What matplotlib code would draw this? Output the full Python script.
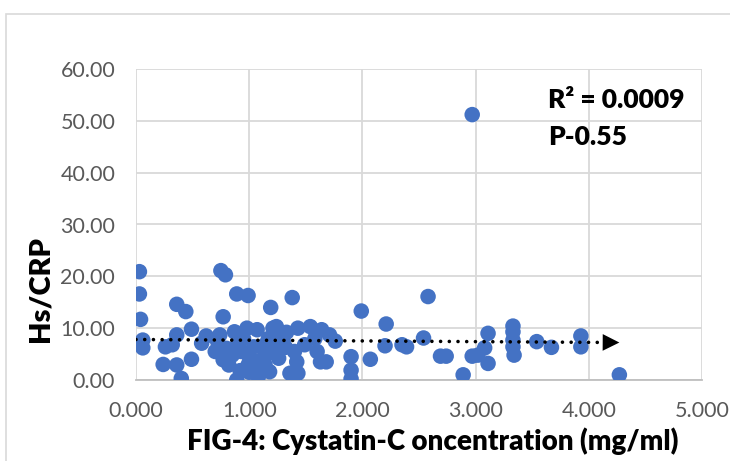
import numpy as np
import matplotlib
matplotlib.use("Agg")
import matplotlib.pyplot as plt
from matplotlib.patches import Rectangle

OUTPUT_FILE = "out.png"

# Cystatin-C concentration (mg/ml)
cystatin_c = [
    0.03, 0.03, 0.04, 0.06, 0.06,
    0.36, 0.44, 0.49, 0.36, 0.26, 0.32, 0.24, 0.36, 0.40, 0.49, 0.58, 0.62,
    0.75, 0.79, 0.77, 0.89, 0.99,
    0.74, 0.87, 0.98, 1.07, 1.21, 1.24, 1.43, 0.80, 0.77, 0.82, 0.93, 0.99,
    0.89, 1.08, 1.14, 1.21, 1.26, 1.36, 1.43, 1.40, 1.04, 0.70, 1.14,
    0.72, 0.90, 0.95, 1.00, 0.85, 1.10, 0.92, 1.00, 1.17, 1.30, 1.32,
    1.38, 1.19, 1.99, 2.21, 2.20, 1.90, 2.07, 1.90, 1.90, 1.68, 1.63, 1.18,
    1.24, 1.33, 1.54, 1.64, 1.71, 1.76, 1.58, 1.49, 1.23, 1.14, 1.42, 1.60, 1.08,
    2.58, 2.35, 2.39, 2.54, 2.69, 2.74, 2.89, 2.97, 3.02, 3.08, 3.11, 3.11,
    3.33, 3.33, 3.33, 3.33, 3.34,
    3.54, 3.67, 3.93, 3.93, 4.27,
    2.97,
]

# Hs/CRP
hs_crp = [
    20.9, 16.6, 11.7, 7.7, 6.2,
    14.6, 13.2, 9.8, 8.7, 6.4, 6.8, 3.0, 2.9, 0.3, 4.0, 7.1, 8.5,
    21.1, 20.3, 12.2, 16.6, 16.3,
    8.7, 9.3, 10.0, 9.7, 10.0, 8.7, 10.0, 6.1, 3.9, 2.9, 5.5, 2.9,
    0.0, 0.6, 2.9, 5.5, 4.2, 1.3, 1.3, 5.5, 6.4, 5.5, 6.8,
    7.5, 7.0, 8.0, 4.5, 4.8, 3.8, 1.8, 1.5, 8.0, 7.5, 6.3,
    15.9, 14.0, 13.3, 10.8, 6.6, 4.5, 4.0, 1.9, 0.2, 3.5, 3.5, 1.6,
    10.3, 9.2, 10.3, 9.7, 8.7, 7.5, 8.0, 6.8, 6.1, 4.8, 3.5, 5.5, 2.9,
    16.1, 6.8, 6.4, 8.1, 4.6, 4.6, 1.0, 4.6, 4.8, 6.2, 9.0, 3.2,
    10.4, 9.3, 7.7, 6.4, 4.8,
    7.4, 6.3, 8.5, 6.4, 1.0,
    51.2,
]

x_ticks = [0, 1, 2, 3, 4, 5]
y_ticks = [0, 10, 20, 30, 40, 50, 60]
stats_text = ["R\u00b2 = 0.0009", "P-0.55"]

plt.rcParams['font.family'] = ['Lato', 'DejaVu Sans']

fig = plt.figure(figsize=(7.30, 4.61), dpi=100)
ax = fig.add_axes([136 / 730, 1 - 380 / 461, 566 / 730, 311 / 461])

# outer chart frame
fig.patches.append(Rectangle((6 / 730, -0.1), 1.2, 1.1 - 14 / 461,
                             transform=fig.transFigure, fill=False,
                             edgecolor='#d9d9d9', lw=1.2))

ax.scatter(cystatin_c, hs_crp, s=125, color='#4472C4', edgecolors='none', zorder=3)

# linear trend line (Excel style, dotted with arrow head)
x = np.array(cystatin_c)
y = np.array(hs_crp)
slope, intercept = np.polyfit(x, y, 1)
x0, x1 = 0.0, x.max()
ax.plot([x0, x1 - 0.12], [intercept + slope * x0, intercept + slope * (x1 - 0.12)],
        color='black', lw=2.6, linestyle=(0, (0.01, 2.4)),
        dash_capstyle='round', zorder=4)
ax.annotate('', xy=(x1, intercept + slope * x1),
            xytext=(x1 - 0.16, intercept + slope * (x1 - 0.16)),
            arrowprops=dict(arrowstyle='-|>', color='black', lw=0,
                            mutation_scale=30, shrinkA=0, shrinkB=0),
            zorder=5)

ax.set_xlim(0, 5)
ax.set_ylim(0, 60)
ax.set_xticks(x_ticks)
ax.set_yticks(y_ticks)
ax.set_xticklabels([f"{v:.3f}" for v in x_ticks])
ax.set_yticklabels([f"{v:.2f}" for v in y_ticks])
ax.tick_params(length=0, labelsize=15.5, colors='#595959', pad=15)
ax.grid(True, color='#d9d9d9', lw=1.3)
ax.set_axisbelow(True)
for side in ['left', 'right', 'top']:
    ax.spines[side].set_visible(False)
ax.spines['bottom'].set_color('#bfbfbf')
ax.spines['bottom'].set_linewidth(1.3)

fig.text(433 / 730, 1 - 441 / 461, "FIG-4: Cystatin-C oncentration (mg/ml)",
         fontsize=20, fontweight='heavy', ha='center', va='center')
fig.text(40 / 730, 1 - 289 / 461, "Hs/CRP", rotation=90, fontsize=21,
         fontweight='heavy', ha='center', va='center')

fig.text(548 / 730, 1 - 100 / 461, stats_text[0], fontsize=19,
         fontweight='heavy', ha='left', va='center')
fig.text(548 / 730, 1 - 137 / 461, stats_text[1], fontsize=19,
         fontweight='heavy', ha='left', va='center')

fig.savefig(OUTPUT_FILE, dpi=100)
